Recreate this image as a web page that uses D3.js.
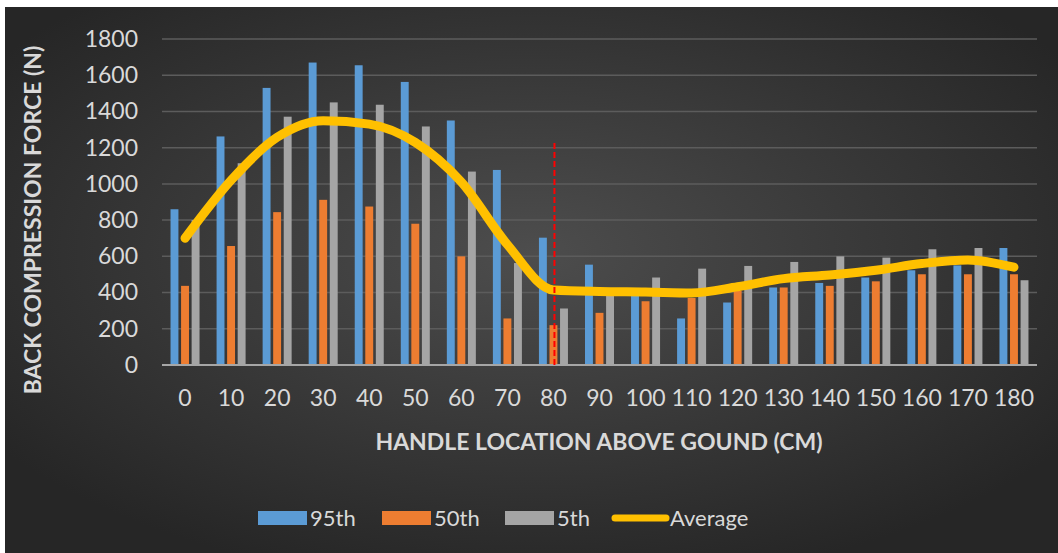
<!DOCTYPE html>
<html>
<head>
<meta charset="utf-8">
<script src="https://cdn.jsdelivr.net/npm/d3@7/dist/d3.min.js"></script>
<style>
  html, body { margin: 0; padding: 0; background: #ffffff; }
  svg { display: block; }
</style>
</head>
<body>
<svg id="chart" width="1058" height="553"></svg>
<script>
// ---- data ----
const categories = ["0","10","20","30","40","50","60","70","80","90","100","110","120","130","140","150","160","170","180"];
const seriesNames = ["95th", "50th", "5th"];
const p95 = [860,1262,1530,1670,1655,1563,1350,1077,703,554,382,257,345,428,453,483,523,550,646];
const p50 = [437,657,844,912,875,780,600,257,220,288,352,370,410,428,437,462,501,501,501];
const p5  = [800,1114,1371,1450,1437,1317,1068,563,312,392,483,532,547,569,600,593,639,646,468];
const average = [700,1020,1257,1349,1330,1229,1010,665,414,406,403,398,432,477,497,523,560,580,540];
const yTicks = [0,200,400,600,800,1000,1200,1400,1600,1800];
const markerCategory = "80";
const markerTop = 1230;
const averageName = "Average";
const xTitle = "HANDLE LOCATION ABOVE GOUND (CM)";
const yTitle = "BACK COMPRESSION FORCE (N)";

(function () {
const seriesValues = [p95, p50, p5];
const colors = ["#5B9BD5", "#ED7D31", "#A5A5A5"];
const lineColor = "#FFC000";

const svg = d3.select("#chart");
const W = 1058, H = 553;
const font = "Lato, 'Open Sans', sans-serif";

// background
const defs = svg.append("defs");
const rg = defs.append("radialGradient").attr("id", "bg")
  .attr("cx", "50%").attr("cy", "45%").attr("r", "62%");
rg.append("stop").attr("offset", "0%").attr("stop-color", "#4d4d4d");
rg.append("stop").attr("offset", "100%").attr("stop-color", "#262626");
svg.append("rect").attr("x", 5).attr("y", 7).attr("width", W - 5).attr("height", H - 7)
  .attr("fill", "url(#bg)");

const pL = 162, pR = 1037, pT = 39, pB = 365;

const x = d3.scaleBand().domain(categories).range([pL, pR]).padding(0);
const groupW = x.bandwidth() * 0.63;
const x1 = d3.scaleBand().domain(seriesNames)
  .range([(x.bandwidth() - groupW) / 2, (x.bandwidth() + groupW) / 2])
  .paddingInner(0.25);
const y = d3.scaleLinear().domain([0, 1800]).range([pB, pT]);

// gridlines
svg.append("g").selectAll("line").data(yTicks.filter(d => d > 0)).join("line")
  .attr("x1", pL).attr("x2", pR)
  .attr("y1", d => y(d)).attr("y2", d => y(d))
  .attr("stroke", "#5c5c5c").attr("stroke-width", 1.5);

// y axis
const yAxis = svg.append("g").attr("transform", `translate(${pL - 24},0)`)
  .call(d3.axisLeft(y).tickValues(yTicks).tickFormat(d3.format("d")).tickSize(0).tickPadding(0));
yAxis.select(".domain").remove();
yAxis.selectAll("text").attr("fill", "#d9d9d9").style("font-family", font).style("font-size", "23px");

// bars
const groups = svg.append("g").selectAll("g").data(categories).join("g")
  .attr("transform", d => `translate(${x(d)},0)`);
groups.selectAll("rect").data((c, i) => seriesNames.map((s, k) => ({ s, k, v: seriesValues[k][i] })))
  .join("rect")
  .attr("x", d => x1(d.s))
  .attr("width", x1.bandwidth())
  .attr("y", d => y(d.v))
  .attr("height", d => y(0) - y(d.v))
  .attr("fill", d => colors[d.k]);

// baseline
svg.append("line").attr("x1", pL).attr("x2", pR).attr("y1", y(0)).attr("y2", y(0))
  .attr("stroke", "#a6a6a6").attr("stroke-width", 2);

// x axis labels
const xAxis = svg.append("g").attr("transform", `translate(0,${pB + 25})`)
  .call(d3.axisBottom(x).tickSize(0).tickPadding(0));
xAxis.select(".domain").remove();
xAxis.selectAll("text").attr("fill", "#d9d9d9").style("font-family", font).style("font-size", "23px");

// average line
const line = d3.line()
  .x((d, i) => x(categories[i]) + x.bandwidth() / 2)
  .y(d => y(d))
  .curve(d3.curveMonotoneX);
svg.append("path").datum(average).attr("d", line)
  .attr("fill", "none").attr("stroke", lineColor).attr("stroke-width", 9)
  .attr("stroke-linecap", "round").attr("stroke-linejoin", "round");

// red dashed marker
const mx = x(markerCategory) + x.bandwidth() / 2 + 1;
svg.append("line").attr("x1", mx).attr("x2", mx).attr("y1", y(0)).attr("y2", y(markerTop))
  .attr("stroke", "#ff0000").attr("stroke-width", 2).attr("stroke-dasharray", "6,3");

// axis titles
svg.append("text").attr("x", 599).attr("y", 450).attr("text-anchor", "middle")
  .attr("fill", "#d9d9d9").style("font-family", font).style("font-weight", "bold").style("font-size", "23px")
  .text(xTitle);
svg.append("text").attr("transform", "translate(41,220) rotate(-90)").attr("text-anchor", "middle")
  .attr("fill", "#d9d9d9").style("font-family", font).style("font-weight", "bold").style("font-size", "23px")
  .text(yTitle);

// legend
const legendItems = [
  { name: seriesNames[0], color: colors[0], type: "bar", x: 258 },
  { name: seriesNames[1], color: colors[1], type: "bar", x: 382 },
  { name: seriesNames[2], color: colors[2], type: "bar", x: 505 },
  { name: averageName, color: lineColor, type: "line", x: 612 }
];
const lg = svg.append("g").selectAll("g").data(legendItems).join("g")
  .attr("transform", d => `translate(${d.x},518)`);
lg.filter(d => d.type === "bar").append("rect")
  .attr("x", 0).attr("y", -7).attr("width", 49).attr("height", 14).attr("fill", d => d.color);
lg.filter(d => d.type === "line").append("line")
  .attr("x1", 3).attr("x2", 54).attr("y1", 0).attr("y2", 0)
  .attr("stroke", d => d.color).attr("stroke-width", 7).attr("stroke-linecap", "round");
lg.append("text")
  .attr("x", d => d.type === "bar" ? 52 : 58).attr("y", 0).attr("dy", "0.35em")
  .attr("fill", "#d9d9d9").style("font-family", font).style("font-size", "22px")
  .text(d => d.name);
})();
</script>
</body>
</html>
